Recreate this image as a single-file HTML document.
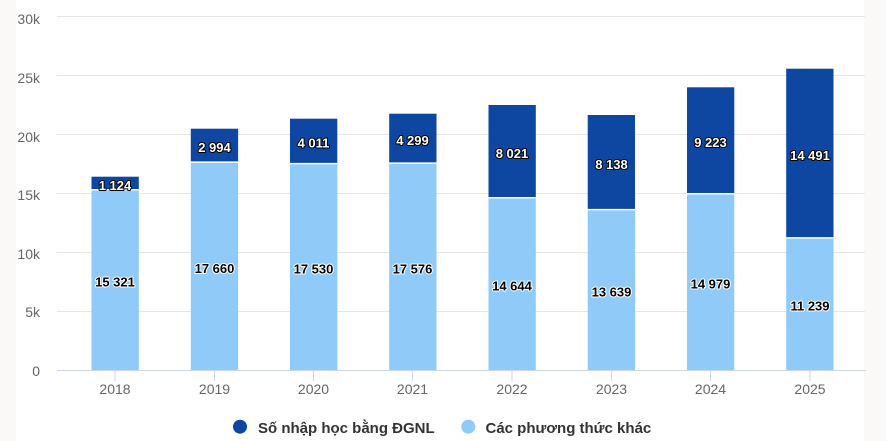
<!DOCTYPE html>
<html>
<head>
<meta charset="utf-8">
<style>
  html, body { margin:0; padding:0; width:886px; height:441px; overflow:hidden; background:#ffffff; }
  svg { display:block; font-family:"Liberation Sans", Arial, sans-serif; }
  .yl { font-size:14px; fill:#666666; text-anchor:end; }
  .xl { font-size:14px; fill:#666666; text-anchor:middle; }
  .dl { font-size:13px; font-weight:bold; text-anchor:middle; paint-order:stroke; stroke-width:2px; stroke-linejoin:round; }
  .dk { fill:#ffffff; stroke:#000000; }
  .lt { fill:#000000; stroke:#ffffff; }
  .lg { font-size:15px; font-weight:bold; fill:#333333; }
</style>
</head>
<body>
<svg width="886" height="441" viewBox="0 0 886 441" xmlns="http://www.w3.org/2000/svg">
  <rect x="0" y="0" width="886" height="441" fill="#ffffff"/>
  <rect x="0" y="0" width="16" height="441" fill="#faf9f7"/>
  <rect x="864" y="0" width="22" height="441" fill="#faf9f7"/>

  <!-- gridlines -->
  <g stroke="#e6e6e6" stroke-width="1">
    <line x1="57" y1="16.5" x2="865" y2="16.5"/>
    <line x1="57" y1="75.5" x2="865" y2="75.5"/>
    <line x1="57" y1="134.5" x2="865" y2="134.5"/>
    <line x1="57" y1="193.5" x2="865" y2="193.5"/>
    <line x1="57" y1="252.5" x2="865" y2="252.5"/>
    <line x1="57" y1="311.5" x2="865" y2="311.5"/>
  </g>

  <!-- y labels -->
  <text class="yl" x="40" y="24">30k</text>
  <text class="yl" x="40" y="83">25k</text>
  <text class="yl" x="40" y="142">20k</text>
  <text class="yl" x="40" y="200">15k</text>
  <text class="yl" x="40" y="259">10k</text>
  <text class="yl" x="40" y="317">5k</text>
  <text class="yl" x="40" y="376">0</text>

  <!-- bars -->
  <g>
    <!-- 2018 -->
    <rect x="91.5" y="189.7" width="47.3" height="180.8" fill="#90caf9"/>
    <rect x="91.5" y="176.7" width="47.3" height="13" fill="#0d47a1"/>
    <!-- 2019 -->
    <rect x="190.8" y="162.1" width="47.3" height="208.4" fill="#90caf9"/>
    <rect x="190.8" y="128.7" width="47.3" height="33.4" fill="#0d47a1"/>
    <!-- 2020 -->
    <rect x="290" y="163.6" width="47.3" height="206.9" fill="#90caf9"/>
    <rect x="290" y="118.7" width="47.3" height="44.9" fill="#0d47a1"/>
    <!-- 2021 -->
    <rect x="389.2" y="163.1" width="47.3" height="207.4" fill="#90caf9"/>
    <rect x="389.2" y="113.7" width="47.3" height="49.4" fill="#0d47a1"/>
    <!-- 2022 -->
    <rect x="488.5" y="197.7" width="47.3" height="172.8" fill="#90caf9"/>
    <rect x="488.5" y="105" width="47.3" height="92.7" fill="#0d47a1"/>
    <!-- 2023 -->
    <rect x="587.7" y="209.6" width="47.3" height="160.9" fill="#90caf9"/>
    <rect x="587.7" y="115" width="47.3" height="94.6" fill="#0d47a1"/>
    <!-- 2024 -->
    <rect x="687" y="193.7" width="47.3" height="176.8" fill="#90caf9"/>
    <rect x="687" y="87.3" width="47.3" height="106.4" fill="#0d47a1"/>
    <!-- 2025 -->
    <rect x="786.2" y="237.9" width="47.3" height="132.6" fill="#90caf9"/>
    <rect x="786.2" y="68.7" width="47.3" height="169.2" fill="#0d47a1"/>
  </g>
  <!-- white separators -->
  <g stroke="#ffffff" stroke-width="1.5">
    <line x1="91.5" y1="189.7" x2="138.8" y2="189.7"/>
    <line x1="190.8" y1="162.1" x2="238.1" y2="162.1"/>
    <line x1="290" y1="163.6" x2="337.3" y2="163.6"/>
    <line x1="389.2" y1="163.1" x2="436.5" y2="163.1"/>
    <line x1="488.5" y1="197.7" x2="535.8" y2="197.7"/>
    <line x1="587.7" y1="209.6" x2="635" y2="209.6"/>
    <line x1="687" y1="193.7" x2="734.3" y2="193.7"/>
    <line x1="786.2" y1="237.9" x2="833.5" y2="237.9"/>
  </g>

  <!-- axis line & ticks -->
  <line x1="57" y1="370.5" x2="866" y2="370.5" stroke="#ccd6eb" stroke-width="1"/>
  <g stroke="#ccd6eb" stroke-width="1">
    <line x1="115" y1="370.5" x2="115" y2="381"/>
    <line x1="214.5" y1="370.5" x2="214.5" y2="381"/>
    <line x1="313.5" y1="370.5" x2="313.5" y2="381"/>
    <line x1="412.5" y1="370.5" x2="412.5" y2="381"/>
    <line x1="512" y1="370.5" x2="512" y2="381"/>
    <line x1="611.5" y1="370.5" x2="611.5" y2="381"/>
    <line x1="710.5" y1="370.5" x2="710.5" y2="381"/>
    <line x1="810" y1="370.5" x2="810" y2="381"/>
  </g>

  <!-- x labels -->
  <text class="xl" x="115" y="394">2018</text>
  <text class="xl" x="214.5" y="394">2019</text>
  <text class="xl" x="313.5" y="394">2020</text>
  <text class="xl" x="412.5" y="394">2021</text>
  <text class="xl" x="512" y="394">2022</text>
  <text class="xl" x="611.5" y="394">2023</text>
  <text class="xl" x="710.5" y="394">2024</text>
  <text class="xl" x="810" y="394">2025</text>

  <!-- data labels: light -->
  <text class="dl lt" x="115" y="286.6">15 321</text>
  <text class="dl lt" x="214.5" y="272.8">17 660</text>
  <text class="dl lt" x="313.5" y="273.5">17 530</text>
  <text class="dl lt" x="412.5" y="273.3">17 576</text>
  <text class="dl lt" x="512" y="290.6">14 644</text>
  <text class="dl lt" x="611.5" y="296.5">13 639</text>
  <text class="dl lt" x="710.5" y="288.6">14 979</text>
  <text class="dl lt" x="810" y="310.7">11 239</text>

  <!-- data labels: dark -->
  <text class="dl dk" x="115" y="190">1 124</text>
  <text class="dl dk" x="214.5" y="151.9">2 994</text>
  <text class="dl dk" x="313.5" y="147.6">4 011</text>
  <text class="dl dk" x="412.5" y="144.9">4 299</text>
  <text class="dl dk" x="512" y="157.9">8 021</text>
  <text class="dl dk" x="611.5" y="168.8">8 138</text>
  <text class="dl dk" x="710.5" y="147">9 223</text>
  <text class="dl dk" x="810" y="159.8">14 491</text>

  <!-- legend -->
  <circle cx="240" cy="426.7" r="7" fill="#0d47a1"/>
  <text class="lg" x="258" y="433">Số nhập học bằng ĐGNL</text>
  <circle cx="468.3" cy="426.7" r="7" fill="#90caf9"/>
  <text class="lg" x="485.5" y="433">Các phương thức khác</text>
</svg>
</body>
</html>
